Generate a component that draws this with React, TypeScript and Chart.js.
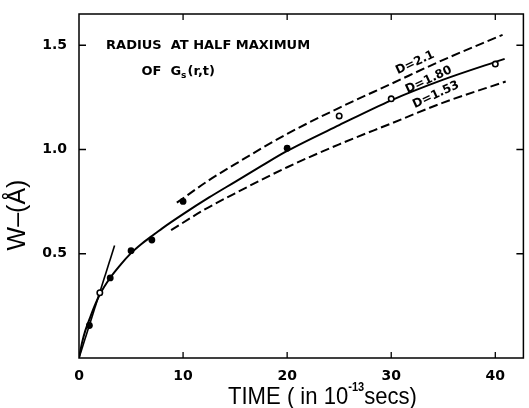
import React, { useEffect, useRef } from "react";
import { Chart, registerables } from "chart.js";

Chart.register(...registerables);

// Measured points (filled and open symbols)
const filledTime = [1, 3, 5, 7, 10, 20];
const filledW = [0.156, 0.384, 0.515, 0.566, 0.751, 1.006];
const openTime = [2, 25, 30, 40];
const openW = [0.313, 1.161, 1.243, 1.41];

// Solid curve (D = 1.80)
const fitTime = [0, 0.3, 0.6, 1, 1.5, 2, 3, 4, 5, 6, 7, 8, 10, 12.5, 15, 17.5, 20, 25, 30, 35, 40.9];
const fitW = [0, 0.075, 0.13, 0.185, 0.25, 0.305, 0.385, 0.448, 0.503, 0.547, 0.585, 0.622, 0.69, 0.77, 0.845, 0.92, 0.993, 1.117, 1.236, 1.335, 1.435];

// Dashed curves
const d21Time = [9.4, 12.5, 15, 20, 25, 30, 35, 40.7];
const d21W = [0.745, 0.853, 0.93, 1.075, 1.2, 1.315, 1.43, 1.55];
const d153Time = [8.85, 12, 15, 20, 25, 30, 35, 41];
const d153W = [0.613, 0.71, 0.79, 0.915, 1.025, 1.125, 1.225, 1.326];

// Short-time straight line
const slopeTime = [0, 3.42];
const slopeW = [0, 0.54];

// Axes
const xTicks = [0, 10, 20, 30, 40];
const yTicks = [0.5, 1.0, 1.5];

// Curve labels
const curveLabels = ["D=2.1", "D=1.80", "D=1.53"];
const labelTime = [32.3, 33.6, 34.3];
const labelW = [1.416, 1.334, 1.262];

const zip = (xs: number[], ys: number[]) => xs.map((v, i) => ({ x: v, y: ys[i] }));

const decoPlugin = {
  id: "deco",
  afterDraw(chart: any) {
    const { ctx, chartArea: a, scales } = chart;
    const x = scales.x;
    const y = scales.y;
    ctx.save();
    // frame
    ctx.strokeStyle = "#000";
    ctx.lineWidth = 1.5;
    ctx.strokeRect(a.left, a.top, a.right - a.left, a.bottom - a.top);
    // inward ticks
    ctx.lineWidth = 1.3;
    ctx.beginPath();
    xTicks.forEach((v) => {
      if (v === 0) return;
      const px = x.getPixelForValue(v);
      ctx.moveTo(px, a.bottom);
      ctx.lineTo(px, a.bottom - 6);
      ctx.moveTo(px, a.top);
      ctx.lineTo(px, a.top + 6);
    });
    yTicks.forEach((v) => {
      const py = y.getPixelForValue(v);
      ctx.moveTo(a.left, py);
      ctx.lineTo(a.left + 7, py);
      ctx.moveTo(a.right, py);
      ctx.lineTo(a.right - 7, py);
    });
    ctx.stroke();

    ctx.fillStyle = "#000";
    // title annotation
    ctx.textAlign = "left";
    ctx.textBaseline = "middle";
    ctx.font = 'bold 13px "DejaVu Sans"';
    ctx.fillText("RADIUS  AT HALF MAXIMUM", x.getPixelForValue(2.6), y.getPixelForValue(1.498));
    let ox = x.getPixelForValue(6.0);
    const oy = y.getPixelForValue(1.374);
    ctx.fillText("OF  G", ox, oy);
    ox += ctx.measureText("OF  G").width;
    ctx.font = 'bold 9px "DejaVu Sans"';
    ctx.fillText("s", ox, oy + 4);
    ox += ctx.measureText("s").width + 1;
    ctx.font = 'bold 13px "DejaVu Sans"';
    ctx.fillText("(r,t)", ox, oy);

    // curve labels
    ctx.font = 'bold 12px "DejaVu Sans"';
    ctx.textAlign = "center";
    curveLabels.forEach((t, i) => {
      ctx.save();
      ctx.translate(x.getPixelForValue(labelTime[i]), y.getPixelForValue(labelW[i]));
      ctx.rotate((-25 * Math.PI) / 180);
      ctx.fillText(t, 0, 0);
      ctx.restore();
    });

    // y axis title
    ctx.save();
    ctx.translate(18.5, 215);
    ctx.rotate(-Math.PI / 2);
    ctx.font = '25px "Liberation Sans"';
    ctx.textAlign = "center";
    ctx.textBaseline = "middle";
    ctx.fillText("W\u2013(\u00C5)", 0, 0);
    ctx.restore();

    // x axis title with superscript
    ctx.save();
    ctx.translate(228, 404);
    ctx.scale(0.92, 1);
    ctx.textAlign = "left";
    ctx.textBaseline = "alphabetic";
    ctx.font = '24px "Liberation Sans"';
    const p1 = "TIME ( in 10";
    ctx.fillText(p1, 0, 0);
    let w = ctx.measureText(p1).width;
    ctx.font = 'bold 12px "Liberation Sans"';
    ctx.fillText("-13", w, -13);
    w += ctx.measureText("-13").width;
    ctx.font = '24px "Liberation Sans"';
    ctx.fillText("secs)", w, 0);
    ctx.restore();

    ctx.restore();
  },
};

export default function App() {
  const ref = useRef<HTMLCanvasElement | null>(null);
  useEffect(() => {
    if (!ref.current) return;
    const tickFont = { family: "DejaVu Sans", size: 14, weight: "bold" as const };
    const chart = new Chart(ref.current, {
      type: "scatter",
      data: {
        datasets: [
          {
            data: zip(filledTime, filledW),
            showLine: false,
            pointStyle: "circle",
            pointRadius: 3.4,
            backgroundColor: "#000",
            borderColor: "#000",
            borderWidth: 0,
            order: 0,
          },
          {
            data: zip(openTime, openW),
            showLine: false,
            pointStyle: "circle",
            pointRadius: 2.7,
            backgroundColor: "#fff",
            borderColor: "#000",
            borderWidth: 1.6,
            order: 1,
          },
          {
            data: zip(fitTime, fitW),
            showLine: true,
            pointRadius: 0,
            borderColor: "#000",
            borderWidth: 2,
            cubicInterpolationMode: "monotone",
            order: 2,
          },
          {
            data: zip(d21Time, d21W),
            showLine: true,
            pointRadius: 0,
            borderColor: "#000",
            borderWidth: 2,
            borderDash: [9, 4],
            cubicInterpolationMode: "monotone",
            order: 3,
          },
          {
            data: zip(d153Time, d153W),
            showLine: true,
            pointRadius: 0,
            borderColor: "#000",
            borderWidth: 2,
            borderDash: [9, 4],
            cubicInterpolationMode: "monotone",
            order: 4,
          },
          {
            data: zip(slopeTime, slopeW),
            showLine: true,
            pointRadius: 0,
            borderColor: "#000",
            borderWidth: 1.6,
            order: 5,
          },
        ] as any,
      },
      options: {
        animation: false,
        responsive: false,
        devicePixelRatio: 1,
        layout: { padding: { top: 14, right: 4, left: 0, bottom: 0 } },
        plugins: { legend: { display: false }, tooltip: { enabled: false } },
        scales: {
          x: {
            type: "linear",
            min: 0,
            max: 42.7,
            afterBuildTicks: (s: any) => {
              s.ticks = xTicks.map((v) => ({ value: v }));
            },
            afterFit: (s: any) => {
              s.height = 50;
            },
            grid: { display: false },
            border: { display: false },
            ticks: {
              color: "#000",
              font: tickFont,
              padding: 2,
              maxRotation: 0,
              autoSkip: false,
              callback: (v: any) => String(v),
            },
          },
          y: {
            type: "linear",
            min: 0,
            max: 1.65,
            afterBuildTicks: (s: any) => {
              s.ticks = yTicks.map((v) => ({ value: v }));
            },
            afterFit: (s: any) => {
              s.width = 79;
            },
            grid: { display: false },
            border: { display: false },
            ticks: {
              color: "#000",
              font: tickFont,
              padding: 4,
              autoSkip: false,
              callback: (v: any) => Number(v).toFixed(1),
            },
          },
        },
      } as any,
      plugins: [decoPlugin],
    });
    return () => chart.destroy();
  }, []);
  return (
    <div style={{ position: "absolute", left: 0, top: 0, width: 529, height: 408, background: "#fff" }}>
      <canvas ref={ref} width={529} height={408} style={{ width: 529, height: 408, display: "block" }} />
    </div>
  );
}
